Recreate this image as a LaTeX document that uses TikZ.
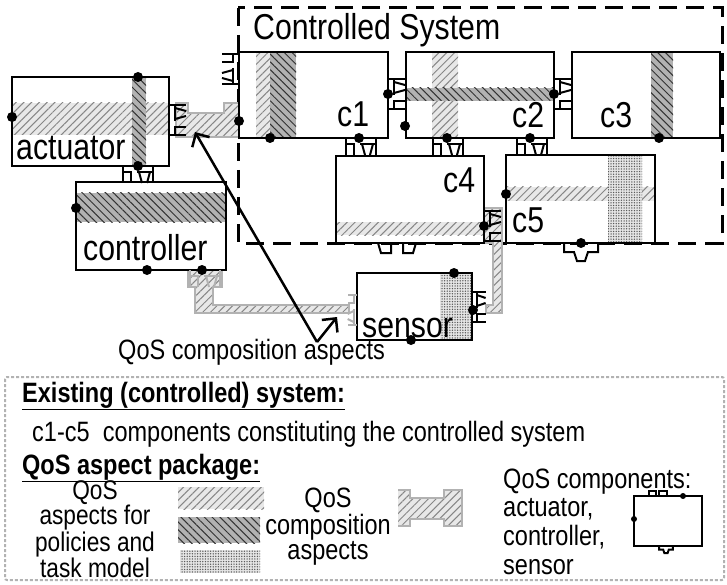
\documentclass[tikz,border=0pt]{standalone}
\usepackage{fontspec}
\setmainfont{Liberation Sans}[FakeStretch=0.84]
\usetikzlibrary{patterns.meta,arrows.meta}

\newcommand{\bigsize}{\fontsize{36}{40}\selectfont}
\newcommand{\smallsize}{\fontsize{28}{25.5}\selectfont}

\tikzset{
comp/.style={draw,line width=2.5pt,inner sep=0pt,outer sep=0pt},
lbl/.style={inner sep=0pt,font=\bigsize},
lgd/.style={inner sep=0pt,font=\smallsize},
lightband/.style={preaction={fill=gray!18},pattern={Lines[angle=45,distance=5.5pt,line width=1pt]},pattern color=gray!95},
darkband/.style={preaction={fill=gray!60},pattern={Lines[angle=-45,distance=5.5pt,line width=1pt]},pattern color=black!80},
dotband/.style={preaction={fill=gray!20},pattern={Dots[distance=2.6pt,radius=0.75pt]},pattern color=black!65},
pipe/.style={draw=gray!60,line width=2pt,lightband},
qarrow/.style={line width=2.5pt,-{Straight Barb[length=10pt,width=20pt]}},
port/.pic={
\draw[line width=2pt] (-15,0) -- (-15,17) (15,0) -- (15,17);
\draw[line width=2pt] (-15,6) -- (-7,6) -- (-7,17);
\draw[line width=2pt] (-1,6) -- (15,6);
\draw[line width=2pt] (1,6) -- (4,17) (12,6) -- (9,17);
},
plug/.pic={
\draw[line width=2pt] (-17,0) -- (-17,9) -- (-7,9) -- (-4,18) -- (4,18) -- (7,9) -- (17,9) -- (17,0);
}
}

\begin{document}
\begin{tikzpicture}[x=1pt,y=-1pt]
\useasboundingbox (0,0) rectangle (727,585);

% Controlled System frame
\draw[line width=3pt,dash pattern=on 18pt off 9pt] (238,8) rectangle (722,243);
\node[lbl,anchor=base west] (cstitle) at (253,40) {Controlled System};

% aspect bands
\fill[lightband] (12,103) rectangle (169,135);
\fill[darkband] (132,77) rectangle (146,166);
\fill[darkband] (76,193) rectangle (226,222);
\fill[lightband] (256,52) rectangle (296,138);
\fill[darkband] (270,52) rectangle (296,138);
\fill[lightband] (432,52) rectangle (458,138);
\fill[darkband] (406,88) rectangle (554,101);
\fill[darkband] (651,52) rectangle (673,138);
\fill[lightband] (336,222) rectangle (484,235);
\fill[lightband] (506,187) rectangle (655,201);
\fill[dotband] (608,155) rectangle (642,243);
\fill[dotband] (440,273) rectangle (472,340);

% composition aspects
\draw[pipe] (176,103) -- (188,103) -- (188,113) -- (224,113) -- (224,103)
  -- (239,103) -- (239,137) -- (176,137) -- cycle;
\draw[pipe] (188,270) -- (188,287) -- (195,287) -- (195,313) -- (349,313)
  -- (349,305) -- (213,305) -- (213,287) -- (222,287) -- (222,270);
\draw[pipe] (484,208) -- (502,208) -- (502,313) -- (486,313) -- (486,305)
  -- (493,305) -- (493,243) -- (484,243);

% components
\node[comp,minimum width=157,minimum height=89] (act) at (90.5,121.5) {};
\node[comp,minimum width=150,minimum height=88] (ctrl) at (151,226) {};
\node[comp,minimum width=149,minimum height=86] (c1) at (313.5,95) {};
\node[comp,minimum width=148,minimum height=86] (c2) at (480,95) {};
\node[comp,minimum width=148,minimum height=86] (c3) at (646,95) {};
\node[comp,minimum width=148,minimum height=87] (c4) at (410,199.5) {};
\node[comp,minimum width=149,minimum height=88] (c5) at (580.5,199) {};
\node[comp,minimum width=115,minimum height=67] (sens) at (414.5,306.5) {};

\node[lbl,anchor=base west] (actlbl) at (16,160) {actuator};
\node[lbl,anchor=base west] (ctrllbl) at (83,260) {controller};
\node[lbl,anchor=base west] (senslbl) at (362,337) {sensor};
\node[lbl,anchor=base west] (c1lbl) at (337,127) {c1};
\node[lbl,anchor=base west] (c2lbl) at (512,128) {c2};
\node[lbl,anchor=base west] (c3lbl) at (600,128) {c3};
\node[lbl,anchor=base west] (c4lbl) at (443,193) {c4};
\node[lbl,anchor=base west] (c5lbl) at (512,232) {c5};

% ports
\pic[rotate=90] at (169,120) {port};
\pic[rotate=-90] at (239,69) {port};
\pic[rotate=90] at (388,94) {port};
\pic[rotate=90] at (554,94) {port};
\pic at (138,166) {port};
\pic at (361,138) {port};
\pic at (448,138) {port};
\pic at (532,138) {port};
\pic at (581,243) {plug};
\pic[rotate=90] at (484,226) {port};
\pic[gray!60] at (205,270) {port};
\pic[gray!60,rotate=-90,yscale=0.55] at (357,310) {port};
\pic[rotate=90,yscale=0.8] at (472,307) {port};
\draw[line width=2pt] (378,243) -- (381,253) -- (391,253) -- (391,243)
  (403,243) -- (403,253) -- (413,253) -- (416,243);

% pins
\foreach \x/\y in {
12/117,138/77,138/166,
239/121,270/138,359/138,388/94,
405/126,554/94,447/138,530/138,
659/138,484/226,506/194,581/243,
76/208,147/270,202/270,
454/273,411/340,473/310
}
{
\fill (\x,\y) circle (5);
}

% QoS composition aspects
\node[lgd,anchor=base west] (qca) at (118,359) {QoS composition aspects};
\coordinate (apex) at (317,342);
\coordinate (tipa) at (195,132);
\coordinate (tipb) at (337,317);
\draw[qarrow] (apex) -- (tipa);
\draw[qarrow] (apex) -- (tipb);

% Legend
\draw[gray!60,line width=2pt,dash pattern=on 3pt off 2pt,rounded corners=2pt] (5,377) rectangle (724,580);
\node[lgd,anchor=base west] (exist) at (22,402) {\underline{\textbf{Existing (controlled) system:}}};
\node[lgd,anchor=base west] (cdesc) at (32,441) {c1-c5\ \ components constituting the controlled system};
\node[lgd,anchor=base west] (pkg) at (22,474) {\underline{\textbf{QoS aspect package:}}};
\node[lgd,align=center,font=\fontsize{27}{24}\selectfont] (polcol) at (95,529) {QoS\\aspects for\\policies and\\task model};
\fill[lightband] (178,487) rectangle (264,509);
\fill[darkband] (178,517) rectangle (260,543);
\fill[dotband] (180,550) rectangle (260,573);
\node[lgd,align=center] (compcol) at (328,527) {QoS\\composition\\aspects};
\draw[pipe] (398,490) -- (410,490) -- (410,498) -- (444,498) -- (444,490) -- (462,490)
  -- (462,526) -- (444,526) -- (444,519) -- (410,519) -- (410,526) -- (398,526);
\node[lgd,anchor=base west] (qcomp) at (503,488) {QoS components:};
\node[lgd,align=left,anchor=north west,font=\fontsize{28}{29}\selectfont] (complist) at (503,498) {actuator,\\controller,\\sensor};
\node[comp,minimum width=68,minimum height=50] (icon) at (668,521) {};
\draw[line width=1.5pt] (649,496) -- (649,491) -- (656,491) -- (656,496)
  (659,496) -- (659,491) -- (667,491) -- (667,496);
\pic[scale=0.4] at (666,546) {plug};
\fill (634,519) circle (3);
\fill (683,496) circle (3);

\end{tikzpicture}
\end{document}
